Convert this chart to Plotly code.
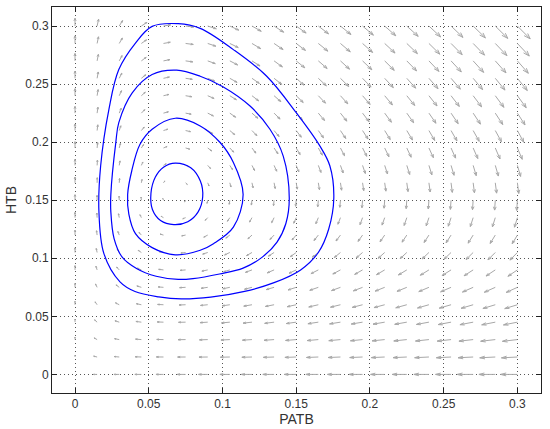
import numpy as np
import plotly.graph_objects as go
import plotly.figure_factory as ff

# grid of the direction field
patb_grid = [0, 0.015, 0.03, 0.045, 0.06, 0.075, 0.09, 0.105, 0.12, 0.135, 0.15,
             0.165, 0.18, 0.195, 0.21, 0.225, 0.24, 0.255, 0.27, 0.285, 0.3]
htb_grid = [0, 0.015, 0.03, 0.045, 0.06, 0.075, 0.09, 0.105, 0.12, 0.135, 0.15,
            0.165, 0.18, 0.195, 0.21, 0.225, 0.24, 0.255, 0.27, 0.285, 0.3]

# model values: equilibrium point and rate ratio
patb_eq = 0.068
htb_eq = 0.155
htb_rate = 0.795
# arrow lengths in the picture grow slower than the rates (compressed)
length_power = 0.5

# closed orbits (PATB, HTB), first point repeated at the end
orbit1_x = [0.068, 0.0785, 0.0850, 0.0866, 0.0835, 0.0765, 0.067, 0.058, 0.0525,
            0.0515, 0.0545, 0.060, 0.068]
orbit1_y = [0.182, 0.178, 0.1665, 0.153, 0.140, 0.1315, 0.129, 0.1325, 0.142,
            0.156, 0.170, 0.1785, 0.182]

orbit2_x = [0.068, 0.0849, 0.0984, 0.1074, 0.114, 0.1074, 0.0939, 0.0849, 0.068,
            0.0523, 0.041, 0.0365, 0.0357, 0.0385, 0.044, 0.0523, 0.068]
orbit2_y = [0.2206, 0.214, 0.1997, 0.1825, 0.155, 0.1268, 0.1126, 0.1069, 0.103,
            0.1092, 0.1212, 0.138, 0.155, 0.1754, 0.198, 0.2111, 0.2206]

orbit3_x = [0.069, 0.0849, 0.100, 0.1187, 0.1322, 0.1412, 0.1453, 0.143, 0.137,
            0.127, 0.114, 0.098, 0.080, 0.070, 0.055, 0.042, 0.032, 0.0265, 0.0243,
            0.0243, 0.0277, 0.0297, 0.0388, 0.0523, 0.069]
orbit3_y = [0.262, 0.2568, 0.248, 0.2311, 0.2111, 0.188, 0.152, 0.130, 0.114,
            0.101, 0.0915, 0.0865, 0.0825, 0.0818, 0.0845, 0.091, 0.101, 0.117, 0.140,
            0.155, 0.2, 0.2168, 0.2425, 0.2583, 0.262]

orbit4_x = [0.070, 0.0849, 0.1074, 0.130, 0.150, 0.166, 0.1728, 0.1755, 0.172,
            0.165, 0.153, 0.135, 0.115, 0.092, 0.072, 0.0568, 0.0407, 0.0305,
            0.0196, 0.0162, 0.0174, 0.023, 0.0297, 0.041, 0.0523, 0.070]
orbit4_y = [0.302, 0.298, 0.2797, 0.2568, 0.2254, 0.1968, 0.1797, 0.152, 0.125,
            0.105, 0.090, 0.079, 0.0715, 0.0665, 0.065, 0.0668, 0.0714, 0.0797,
            0.104, 0.1411, 0.1797, 0.2283, 0.2625, 0.2853, 0.2997, 0.302]

ticks = [0, 0.05, 0.1, 0.15, 0.2, 0.25, 0.3]
tick_text = ['0', '0.05', '0.1', '0.15', '0.2', '0.25', '0.3']

X, Y = np.meshgrid(patb_grid, htb_grid)
U = X * (Y - htb_eq)
V = htb_rate * Y * (patb_eq - X)

mag = np.hypot(U, V)
comp = np.where(mag > 0, mag ** (length_power - 1), 0)
U = U * comp
V = V * comp

# matlab style autoscale
spacing = 0.015
lens = np.sqrt((U**2 + V**2) / (2 * spacing**2))
scale = 0.66 / lens.max()

fig = ff.create_quiver(X.flatten(), Y.flatten(), U.flatten(), V.flatten(),
                       scale=scale, arrow_scale=0.35, angle=0.32,
                       line=dict(color='#a8a8a8', width=1), showlegend=False,
                       hoverinfo='skip')

for ox, oy in [(orbit1_x, orbit1_y), (orbit2_x, orbit2_y),
               (orbit3_x, orbit3_y), (orbit4_x, orbit4_y)]:
    fig.add_trace(go.Scatter(x=ox, y=oy, mode='lines', showlegend=False,
                             line=dict(color='#0000ff', width=1.2, shape='spline', smoothing=1)))

axis_style = dict(tickvals=ticks, ticktext=tick_text, ticks='inside', ticklen=5,
                  tickcolor='#222', showline=True, linecolor='#222', linewidth=1,
                  mirror='ticks', showgrid=True, gridcolor='#555', griddash='1px,3px',
                  gridwidth=1, zeroline=False, automargin=False,
                  tickfont=dict(size=12, color='#333'))

fig.update_layout(
    width=550, height=429,
    margin=dict(l=52, r=9, t=7, b=36),
    paper_bgcolor='white', plot_bgcolor='white',
    font=dict(family='Liberation Sans, Arial, sans-serif', size=12, color='#333'),
    xaxis=dict(range=[-0.0156, 0.316], title=dict(text='PATB', standoff=0), **axis_style),
    yaxis=dict(range=[-0.016, 0.3164], title=dict(text='HTB', standoff=5), **axis_style),
)

# drop the page's default body margin so the figure sits at the window corner
fig.write_html("out.html", config={'displayModeBar': False},
               post_script="document.body.style.margin = '0';")
